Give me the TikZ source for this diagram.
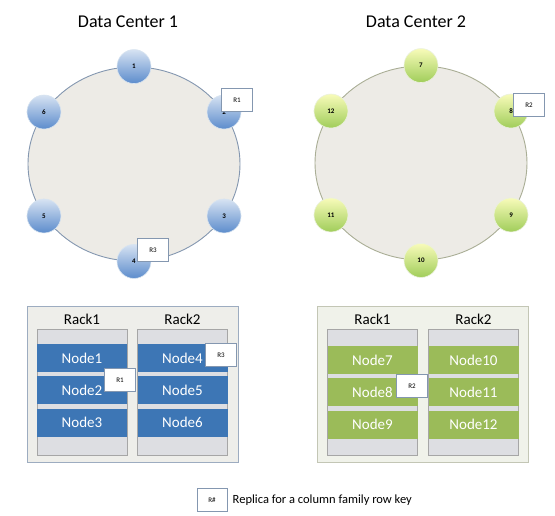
\documentclass[tikz,border=0pt]{standalone}
\usepackage{fontspec}
\setmainfont{Carlito}
\usetikzlibrary{shapes.geometric, positioning}
\definecolor{blue1}{RGB}{61, 118, 181}
\definecolor{green1}{RGB}{155, 187, 89}
\definecolor{ballblue}{RGB}{92, 140, 204}
\definecolor{ballgreen}{RGB}{160, 205, 90}
\definecolor{ringfill}{RGB}{237, 235, 230}
\definecolor{ringblue}{RGB}{132, 151, 176}
\definecolor{ringgreen}{RGB}{170, 174, 150}
\definecolor{rackgrey}{RGB}{221, 222, 226}
\definecolor{boxfill}{RGB}{238, 238, 234}

\begin{document}
\begin{tikzpicture}[x=1pt, y=-1pt, node distance=4pt,
    ring/.style={ellipse, draw, line width=0.9pt, fill=ringfill, minimum width=212pt, minimum height=194pt},
    ballb/.style={circle, minimum size=34pt, inner sep=0pt, draw=white!80!blue1, line width=0.6pt,
        top color=ballblue!25, bottom color=ballblue, font=\bfseries\fontsize{7}{8}\selectfont},
    ballg/.style={circle, minimum size=34pt, inner sep=0pt, draw=white!80!green1, line width=0.6pt,
        top color=ballgreen!25!yellow!30!white, bottom color=ballgreen, font=\bfseries\fontsize{7}{8}\selectfont},
    rbox/.style={rectangle, draw=ringblue, fill=white, minimum width=31pt, minimum height=23pt, font=\fontsize{7}{8}\selectfont},
    dcbox/.style={rectangle, draw, line width=0.8pt, fill=boxfill, minimum width=211pt, minimum height=156pt},
    rack/.style={rectangle, draw=gray!70, fill=rackgrey, minimum width=90pt, minimum height=126pt},
    bar/.style={rectangle, minimum width=90pt, minimum height=28pt, text=white, font=\fontsize{15}{16}\selectfont},
    title/.style={font=\fontsize{18}{20}\selectfont}]
    \useasboundingbox (0,0) rectangle (555,516);
    % data center 1
    \node[title] (t1) at (128,22) {Data Center 1};
    \node[ring, draw=ringblue] (ring1) at (134,164) {};
    \foreach \n/\a in {1/90, 2/30, 3/-30, 4/-90, 5/-150, 6/150}
        \node[ballb] (b\n) at (ring1.\a) {\n};
    \node[rbox] (r1a) at (237,100) {R1};
    \node[rbox] (r3a) at (153,250) {R3};
    % data center 2
    \node[title] (t2) at (416,22) {Data Center 2};
    \node[ring, draw=ringgreen] (ring2) at (421,163) {};
    \foreach \n/\a in {7/90, 8/30, 9/-30, 10/-90, 11/-150, 12/150}
        \node[ballg] (b\n) at (ring2.\a) {\n};
    \node[rbox] (r2a) at (529,105) {R2};
    % racks of data center 1
    \node[dcbox, draw=ringblue!80] (dc1) at (132.5,384) {};
    \node[rack] (rk1) at (82,392) {};
    \node[rack] (rk2) at (182.5,392) {};
    \node[above=1pt of rk1, font=\fontsize{15}{16}\selectfont] (l1) {Rack1};
    \node[above=1pt of rk2, font=\fontsize{15}{16}\selectfont] (l2) {Rack2};
    \node[bar, fill=blue1, below=15pt of rk1.north] (n1) {Node1};
    \node[bar, fill=blue1, below=of n1] (n2) {Node2};
    \node[bar, fill=blue1, below=of n2] (n3) {Node3};
    \node[bar, fill=blue1, below=15pt of rk2.north] (n4) {Node4};
    \node[bar, fill=blue1, below=of n4] (n5) {Node5};
    \node[bar, fill=blue1, below=of n5] (n6) {Node6};
    \node[rbox] (r1b) at (120,380) {R1};
    \node[rbox] (r3b) at (221,355) {R3};
    % racks of data center 2
    \node[dcbox, draw=ringgreen!70, fill=boxfill!90!green1!60] (dc2) at (422.5,384.5) {};
    \node[rack] (rk3) at (372.5,392) {};
    \node[rack] (rk4) at (473.5,392) {};
    \node[above=1pt of rk3, font=\fontsize{15}{16}\selectfont] (l3) {Rack1};
    \node[above=1pt of rk4, font=\fontsize{15}{16}\selectfont] (l4) {Rack2};
    \node[bar, fill=green1, below=17pt of rk3.north] (n7) {Node7};
    \node[bar, fill=green1, below=of n7] (n8) {Node8};
    \node[bar, fill=green1, below=of n8] (n9) {Node9};
    \node[bar, fill=green1, below=17pt of rk4.north] (n10) {Node10};
    \node[bar, fill=green1, below=of n10] (n11) {Node11};
    \node[bar, fill=green1, below=of n11] (n12) {Node12};
    \node[rbox] (r2b) at (412,386) {R2};
    % legend
    \node[rbox, minimum width=30pt] (key) at (212,500) {R\#};
    \node[right=2pt of key, font=\fontsize{12.5}{14}\selectfont] (keytext) {Replica for a column family row key};
\end{tikzpicture}
\end{document}
